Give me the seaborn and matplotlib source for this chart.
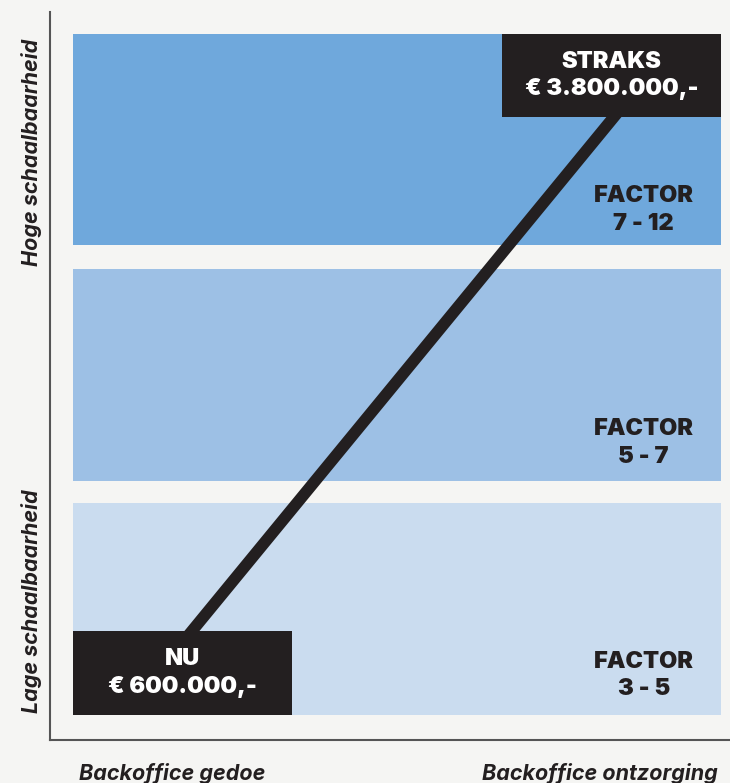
import matplotlib
matplotlib.use("Agg")
import matplotlib.pyplot as plt
import seaborn as sns
import pandas as pd

# data (0-100 schaal op beide assen)
band_labels = ["FACTOR\n3 - 5", "FACTOR\n5 - 7", "FACTOR\n7 - 12"]
band_low = [3.4, 35.6, 68.0]
band_high = [32.6, 64.7, 97.0]
band_x0 = 3.4
band_x1 = 98.7
band_label_y = [8.9, 40.8, 72.8]
band_colors = ["#cadcef", "#9dc0e5", "#6fa8dc"]

point_names = ["NU\n€ 600.000,-", "STRAKS\n€ 3.800.000,-"]
line_x = [15.8, 88.0]
line_y = [9.2, 91.35]
box_x0 = [3.4, 66.5]
box_x1 = [35.6, 98.7]
box_y0 = [3.4, 85.6]
box_y1 = [15.0, 97.0]

x_labels = ["Backoffice gedoe", "Backoffice ontzorging"]
y_labels = ["Lage schaalbaarheid", "Hoge schaalbaarheid"]

bg = "#f5f5f3"
dark = "#231f20"

sns.set_style("white")
plt.rcParams["font.family"] = ["Inter", "DejaVu Sans"]

fig = plt.figure(figsize=(7.3, 7.83), dpi=100, facecolor=bg)
ax = fig.add_axes([50 / 730, 43 / 783, 680 / 730, 728 / 783])
ax.set_facecolor(bg)
ax.set_xlim(0, 100)
ax.set_ylim(0, 100)

# bands
for lo, hi, col, lab, ly in zip(band_low, band_high, band_colors, band_labels, band_label_y):
    ax.barh(lo, band_x1 - band_x0, height=hi - lo, left=band_x0, align="edge",
            color=col, linewidth=0, zorder=1)
    ax.text(87.3, ly, lab, ha="center", va="center", fontsize=17,
            fontweight="black", color=dark, linespacing=1.3, zorder=5)

# line
df = pd.DataFrame({"x": line_x, "y": line_y})
sns.lineplot(data=df, x="x", y="y", color=dark, linewidth=8.4, ax=ax,
             zorder=3, solid_capstyle="butt")

# label boxes
for name, x0, x1, y0, y1 in zip(point_names, box_x0, box_x1, box_y0, box_y1):
    ax.barh(y0, x1 - x0, height=y1 - y0, left=x0, align="edge", color=dark,
            linewidth=0, zorder=4)
    ax.text((x0 + x1) / 2, (y0 + y1) / 2, name, ha="center", va="center",
            fontsize=17, fontweight="black", color="white", linespacing=1.3,
            zorder=5)

ax.set_xlabel("")
ax.set_ylabel("")
ax.set_xticks([])
ax.set_yticks([])
for s in ["top", "right"]:
    ax.spines[s].set_visible(False)
for s in ["left", "bottom"]:
    ax.spines[s].set_color("#555555")
    ax.spines[s].set_linewidth(1.5)

# axis texts
lab_kw = dict(ha="center", va="center", fontsize=15.5, fontweight="bold",
              style="italic", color=dark)
fig.text(172 / 730, 1 - 773 / 783, x_labels[0], **lab_kw)
fig.text(600 / 730, 1 - 773 / 783, x_labels[1], **lab_kw)
fig.text(32 / 730, 1 - 601 / 783, y_labels[0], rotation=90, **lab_kw)
fig.text(32 / 730, 1 - 152 / 783, y_labels[1], rotation=90, **lab_kw)

fig.savefig("out.png", dpi=100, facecolor=bg)
